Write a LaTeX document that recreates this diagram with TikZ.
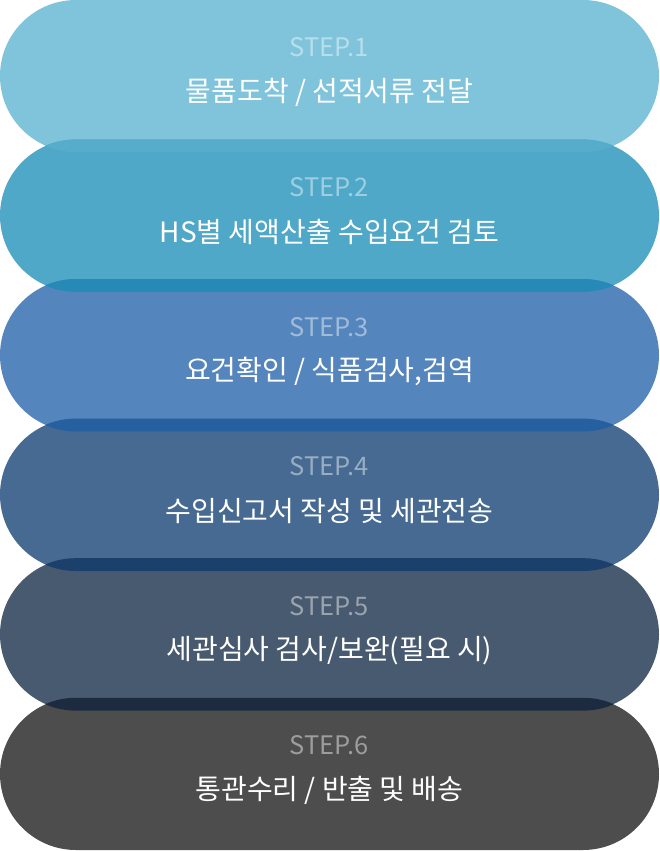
\documentclass[tikz,border=0pt]{standalone}
\usepackage{fontspec}
\setmainfont{Noto Sans CJK KR}
\usepackage{tikz}
\usetikzlibrary{positioning}
\definecolor{stageone}{HTML}{80C4DC}
\definecolor{stagetwo}{HTML}{4FA8C8}
\definecolor{stagethree}{HTML}{5585BD}
\definecolor{stagefour}{HTML}{466A92}
\definecolor{stagefive}{HTML}{475A70}
\definecolor{stagesix}{HTML}{4D4D4D}
\definecolor{bandonetwo}{HTML}{55ACCB}
\definecolor{bandtwothree}{HTML}{2689B6}
\definecolor{bandthreefour}{HTML}{2660A1}
\definecolor{bandfourfive}{HTML}{1B406C}
\definecolor{bandfivesix}{HTML}{1D2B40}

\begin{document}
\begin{tikzpicture}[
    x=1pt, y=1pt,
    stage/.style={rectangle, draw=none, rounded corners=76pt,
                  minimum width=659pt, minimum height=152pt, inner sep=0pt},
    steptag/.style={text=white, text opacity=0.45, inner sep=0pt, font=\fontsize{25.5}{27}\selectfont},
    steptext/.style={text=white, inner sep=0pt, font=\fontsize{28}{30}\selectfont},
    band/.style={rounded corners=76pt}
]
\useasboundingbox (0,0) rectangle (659,-851);

% Stages, top to bottom
\node[stage, fill=stageone] (s1) at (329.5,-76) {};
\node[stage, fill=stagetwo] (s2) at (329.5,-215.6) {};
\node[stage, fill=stagethree] (s3) at (329.5,-355.2) {};
\node[stage, fill=stagefour] (s4) at (329.5,-494.8) {};
\node[stage, fill=stagefive] (s5) at (329.5,-634.4) {};
\node[stage, fill=stagesix] (s6) at (329.5,-774) {};

% Overlap bands between neighbouring stages
\begin{scope}
  \clip[band] (s1.south west) rectangle (s1.north east);
  \fill[band, bandonetwo] (s2.south west) rectangle (s2.north east);
\end{scope}
\begin{scope}
  \clip[band] (s2.south west) rectangle (s2.north east);
  \fill[band, bandtwothree] (s3.south west) rectangle (s3.north east);
\end{scope}
\begin{scope}
  \clip[band] (s3.south west) rectangle (s3.north east);
  \fill[band, bandthreefour] (s4.south west) rectangle (s4.north east);
\end{scope}
\begin{scope}
  \clip[band] (s4.south west) rectangle (s4.north east);
  \fill[band, bandfourfive] (s5.south west) rectangle (s5.north east);
\end{scope}
\begin{scope}
  \clip[band] (s5.south west) rectangle (s5.north east);
  \fill[band, bandfivesix] (s6.south west) rectangle (s6.north east);
\end{scope}

% Labels
\node[steptag] (tag1) at ([yshift=28.5pt]s1.center) {STEP.1};
\node[steptext] (txt1) at ([yshift=-16.5pt]s1.center) {물품도착 / 선적서류 전달};
\node[steptag] (tag2) at ([yshift=28.5pt]s2.center) {STEP.2};
\node[steptext] (txt2) at ([yshift=-16.5pt]s2.center) {HS별 세액산출 수입요건 검토};
\node[steptag] (tag3) at ([yshift=28.5pt]s3.center) {STEP.3};
\node[steptext] (txt3) at ([yshift=-16.5pt]s3.center) {요건확인 / 식품검사,검역};
\node[steptag] (tag4) at ([yshift=28.5pt]s4.center) {STEP.4};
\node[steptext] (txt4) at ([yshift=-16.5pt]s4.center) {수입신고서 작성 및 세관전송};
\node[steptag] (tag5) at ([yshift=28.5pt]s5.center) {STEP.5};
\node[steptext] (txt5) at ([yshift=-16.5pt]s5.center) {세관심사 검사/보완(필요 시)};
\node[steptag] (tag6) at ([yshift=28.5pt]s6.center) {STEP.6};
\node[steptext] (txt6) at ([yshift=-16.5pt]s6.center) {통관수리 / 반출 및 배송};

\end{tikzpicture}
\end{document}
